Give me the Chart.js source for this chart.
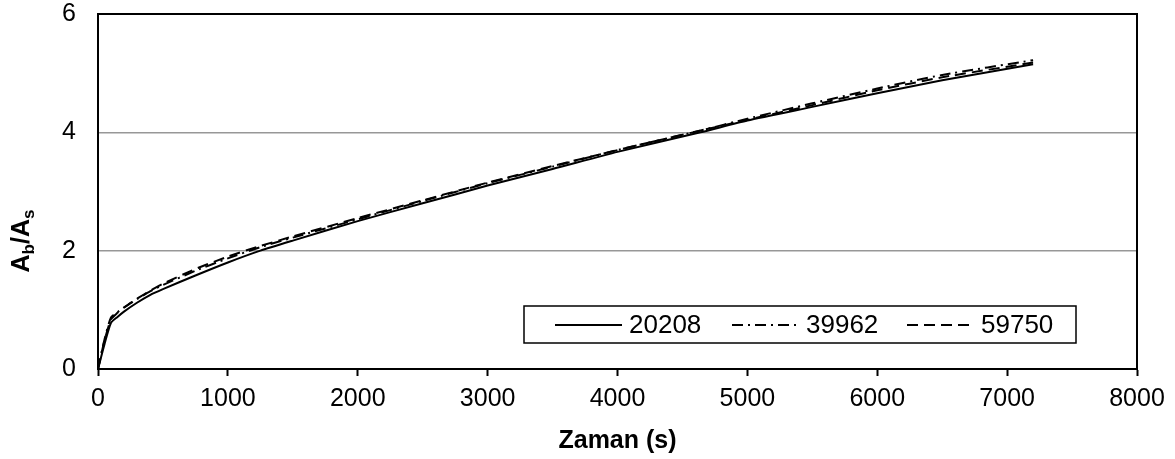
<!DOCTYPE html>
<html>
<head>
<meta charset="utf-8">
<script src="https://cdn.jsdelivr.net/npm/chart.js@4.4.1/dist/chart.umd.min.js"></script>
<style>
  html, body { margin: 0; padding: 0; background: #fff; }
  #wrap { width: 1175px; height: 459px; position: relative; }
</style>
</head>
<body>
<div id="wrap"><canvas id="c"></canvas></div>
<script>
// ---- data ----
const times = [0, 50, 100, 150, 200, 300, 400, 500, 750, 1000, 1250, 1500, 2000, 2500, 3000, 3500, 4000, 4640, 5000, 5500, 6000, 6500, 7200];
const series20208 = [0, 0.42, 0.78, 0.88, 0.97, 1.12, 1.25, 1.35, 1.58, 1.80, 2.00, 2.17, 2.50, 2.80, 3.10, 3.38, 3.67, 4.00, 4.20, 4.43, 4.66, 4.88, 5.15];
const series39962 = [0, 0.50, 0.87, 0.96, 1.04, 1.18, 1.31, 1.42, 1.66, 1.87, 2.06, 2.22, 2.53, 2.84, 3.14, 3.42, 3.70, 4.03, 4.23, 4.49, 4.74, 4.97, 5.22];
const series59750 = [0, 0.48, 0.84, 0.95, 1.04, 1.19, 1.32, 1.44, 1.69, 1.90, 2.08, 2.24, 2.55, 2.85, 3.15, 3.43, 3.70, 4.03, 4.21, 4.46, 4.71, 4.93, 5.18];
const seriesNames = ['20208', '39962', '59750'];
const xTicks = [0, 1000, 2000, 3000, 4000, 5000, 6000, 7000, 8000];
const yTicks = [0, 2, 4, 6];
const xTitle = 'Zaman (s)';

const FONT = '"Liberation Sans", Arial, sans-serif';
const dashes = [[], [11, 5, 2, 5], [11, 6]];
const allSeries = [series20208, series39962, series59750];

const datasets = allSeries.map((s, i) => ({
  label: seriesNames[i],
  data: times.map((t, k) => ({ x: t, y: s[k] })),
  borderColor: '#000',
  borderWidth: 2,
  borderDash: dashes[i],
  pointRadius: 0,
  fill: false,
  tension: 0.2
}));

const framePlugin = {
  id: 'frame',
  afterDatasetsDraw(chart) {
    const { ctx, chartArea: a } = chart;
    ctx.save();
    ctx.strokeStyle = '#000';
    ctx.lineWidth = 2;
    ctx.setLineDash([]);
    ctx.strokeRect(a.left, a.top, a.right - a.left, a.bottom - a.top);
    ctx.restore();
  }
};

const legendPlugin = {
  id: 'boxLegend',
  afterDraw(chart) {
    const { ctx, chartArea: a } = chart;
    const bx = a.left + 426, by = a.top + 292, bw = 552, bh = 37;
    ctx.save();
    ctx.fillStyle = '#fff';
    ctx.fillRect(bx, by, bw, bh);
    ctx.strokeStyle = '#000';
    ctx.lineWidth = 1.5;
    ctx.setLineDash([]);
    ctx.strokeRect(bx, by, bw, bh);
    const starts = [bx + 31, bx + 208, bx + 383];
    const cy = by + bh / 2 + 0.5;
    ctx.font = '26px ' + FONT;
    ctx.fillStyle = '#000';
    ctx.textBaseline = 'middle';
    ctx.textAlign = 'left';
    chart.data.datasets.forEach((ds, i) => {
      const sx = starts[i];
      ctx.beginPath();
      ctx.lineWidth = 2;
      ctx.setLineDash(ds.borderDash || []);
      ctx.moveTo(sx, cy);
      ctx.lineTo(sx + 67, cy);
      ctx.stroke();
      ctx.setLineDash([]);
      ctx.fillText(ds.label, sx + 74, cy + 1);
    });
    ctx.restore();
  }
};

const titlesPlugin = {
  id: 'titles',
  afterDraw(chart) {
    const { ctx, chartArea: a } = chart;
    ctx.save();
    ctx.fillStyle = '#000';
    // x title
    ctx.font = 'bold 25px ' + FONT;
    ctx.textAlign = 'center';
    ctx.textBaseline = 'alphabetic';
    ctx.fillText(xTitle, (a.left + a.right) / 2, 448);
    // y title with subscripts: A_b/A_s
    const parts = [
      { t: 'A', sub: false }, { t: 'b', sub: true },
      { t: '/', sub: false },
      { t: 'A', sub: false }, { t: 's', sub: true }
    ];
    const big = 'bold 25px ' + FONT, small = 'bold 17px ' + FONT;
    let total = 0;
    parts.forEach(p => { ctx.font = p.sub ? small : big; p.w = ctx.measureText(p.t).width; total += p.w; });
    ctx.translate(29, 241);
    ctx.rotate(-Math.PI / 2);
    ctx.textAlign = 'left';
    let x = -total / 2;
    parts.forEach(p => {
      ctx.font = p.sub ? small : big;
      ctx.fillText(p.t, x, p.sub ? 5 : 0);
      x += p.w;
    });
    ctx.restore();
  }
};

new Chart(document.getElementById('c'), {
  type: 'line',
  data: { datasets },
  options: {
    responsive: true,
    maintainAspectRatio: false,
    animation: false,
    devicePixelRatio: 1,
    layout: { padding: { top: 14, right: 38, left: 0, bottom: 0 } },
    plugins: { legend: { display: false }, tooltip: { enabled: false } },
    scales: {
      x: {
        type: 'linear',
        min: xTicks[0], max: xTicks[xTicks.length - 1],
        afterBuildTicks: s => { s.ticks = xTicks.map(v => ({ value: v })); },
        afterFit: s => { s.height = 90; s.paddingLeft = 0; s.paddingRight = 0; },
        grid: { drawOnChartArea: false, drawTicks: true, tickLength: 7, tickColor: '#000', tickWidth: 2 },
        border: { color: '#000', width: 2 },
        ticks: { color: '#000', padding: 8, maxRotation: 0, font: { family: FONT, size: 25 }, callback: v => String(v) }
      },
      y: {
        type: 'linear',
        min: yTicks[0], max: yTicks[yTicks.length - 1],
        afterBuildTicks: s => { s.ticks = yTicks.map(v => ({ value: v })); },
        afterFit: s => { s.width = 98; s.paddingTop = 0; s.paddingBottom = 0; },
        grid: {
          drawTicks: false,
          color: c => (c.tick && (c.tick.value === 2 || c.tick.value === 4)) ? '#979797' : 'rgba(0,0,0,0)',
          lineWidth: 1.5
        },
        border: { color: '#000', width: 2 },
        ticks: { color: '#000', padding: 22, font: { family: FONT, size: 25 }, callback: v => String(v) }
      }
    }
  },
  plugins: [framePlugin, legendPlugin, titlesPlugin]
});
</script>
</body>
</html>
